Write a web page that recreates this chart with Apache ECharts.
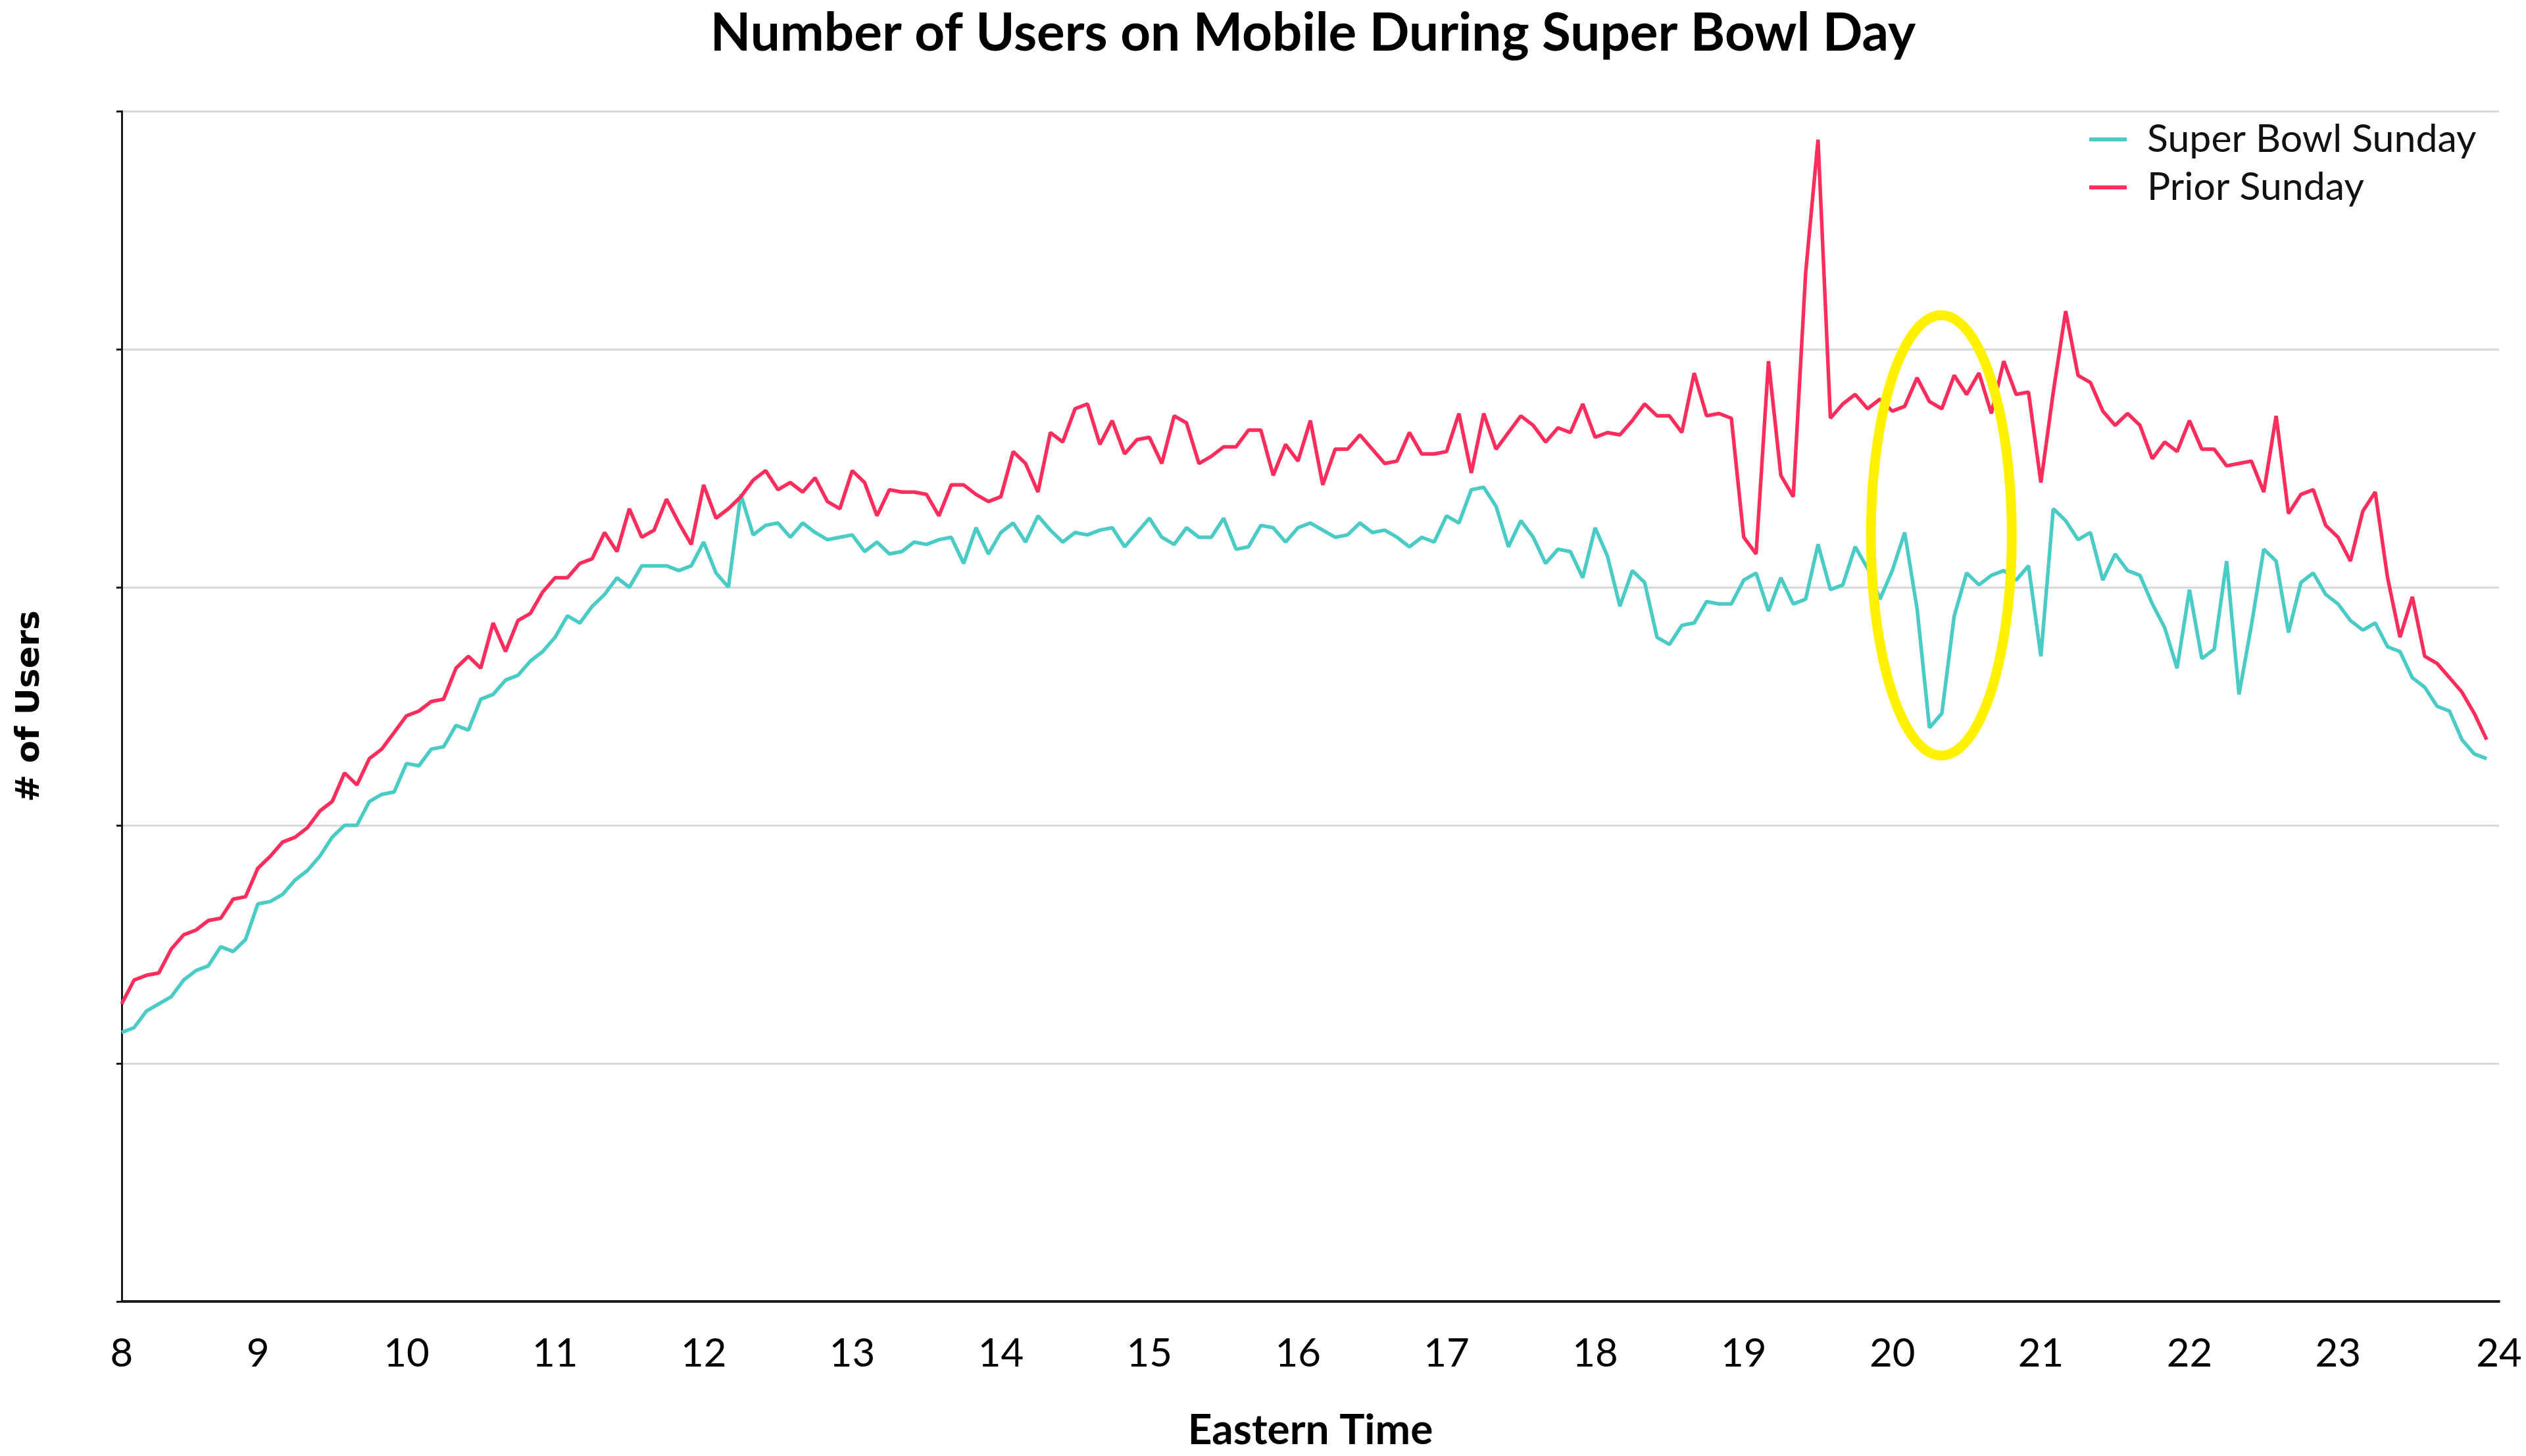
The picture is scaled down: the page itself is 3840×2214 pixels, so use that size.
<!DOCTYPE html>
<html>
<head>
<meta charset="utf-8">
<script src="https://cdn.jsdelivr.net/npm/echarts@6/dist/echarts.min.js"></script>
<style>
html,body{margin:0;padding:0;background:#fff;}
#chart{width:3840px;height:2214px;}
</style>
</head>
<body>
<div id="chart"></div>
<script>
// x positions: 5-minute steps, first reading at 8:05, last at 24:00 (hours)
const stepCount = 192;
const times = [];
for (let i = 0; i < stepCount; i++) { times.push(8 + (i + 1) / 12); }

// tick labels on the time axis
const tickValues = [8 + 1/12, 9, 10, 11, 12, 13, 14, 15, 16, 17, 18, 19, 20, 21, 22, 23, 24 + 1/12];

// Super Bowl Sunday (relative # of users)
const superBowlSunday = [
1.13,1.15,1.22,1.25,1.28,1.35,1.39,1.41,1.49,1.47,1.52,1.67,
1.68,1.71,1.77,1.81,1.87,1.95,2.00,2.00,2.10,2.13,2.14,2.26,
2.25,2.32,2.33,2.42,2.40,2.53,2.55,2.61,2.63,2.69,2.73,2.79,
2.88,2.85,2.92,2.97,3.04,3.00,3.09,3.09,3.09,3.07,3.09,3.19,
3.06,3.00,3.39,3.22,3.26,3.27,3.21,3.27,3.23,3.20,3.21,3.22,
3.15,3.19,3.14,3.15,3.19,3.18,3.20,3.21,3.10,3.25,3.14,3.23,
3.27,3.19,3.30,3.24,3.19,3.23,3.22,3.24,3.25,3.17,3.23,3.29,
3.21,3.18,3.25,3.21,3.21,3.29,3.16,3.17,3.26,3.25,3.19,3.25,
3.27,3.24,3.21,3.22,3.27,3.23,3.24,3.21,3.17,3.21,3.19,3.30,
3.27,3.41,3.42,3.34,3.17,3.28,3.21,3.10,3.16,3.15,3.04,3.25,
3.13,2.92,3.07,3.02,2.79,2.76,2.84,2.85,2.94,2.93,2.93,3.03,
3.06,2.90,3.04,2.93,2.95,3.18,2.99,3.01,3.17,3.08,2.95,3.07,
3.23,2.91,2.41,2.47,2.88,3.06,3.01,3.05,3.07,3.03,3.09,2.71,
3.33,3.28,3.20,3.23,3.03,3.14,3.07,3.05,2.93,2.83,2.66,2.99,
2.70,2.74,3.11,2.55,2.84,3.16,3.11,2.81,3.02,3.06,2.97,2.93,
2.86,2.82,2.85,2.75,2.73,2.62,2.58,2.50,2.48,2.36,2.30,2.28
];

// Prior Sunday (relative # of users)
const priorSunday = [
1.25,1.35,1.37,1.38,1.48,1.54,1.56,1.60,1.61,1.69,1.70,1.82,
1.87,1.93,1.95,1.99,2.06,2.10,2.22,2.17,2.28,2.32,2.39,2.46,
2.48,2.52,2.53,2.66,2.71,2.66,2.85,2.73,2.86,2.89,2.98,3.04,
3.04,3.10,3.12,3.23,3.15,3.33,3.21,3.24,3.37,3.27,3.18,3.43,
3.29,3.33,3.38,3.45,3.49,3.41,3.44,3.40,3.46,3.36,3.33,3.49,
3.44,3.30,3.41,3.40,3.40,3.39,3.30,3.43,3.43,3.39,3.36,3.38,
3.57,3.52,3.40,3.65,3.61,3.75,3.77,3.60,3.70,3.56,3.62,3.63,
3.52,3.72,3.69,3.52,3.55,3.59,3.59,3.66,3.66,3.47,3.60,3.53,
3.70,3.43,3.58,3.58,3.64,3.58,3.52,3.53,3.65,3.56,3.56,3.57,
3.73,3.48,3.73,3.58,3.65,3.72,3.68,3.61,3.67,3.65,3.77,3.63,
3.65,3.64,3.70,3.77,3.72,3.72,3.65,3.90,3.72,3.73,3.71,3.21,
3.14,3.95,3.47,3.38,4.32,4.88,3.71,3.77,3.81,3.75,3.79,3.74,
3.76,3.88,3.78,3.75,3.89,3.81,3.90,3.73,3.95,3.81,3.82,3.44,
3.82,4.16,3.89,3.86,3.74,3.68,3.73,3.68,3.54,3.61,3.57,3.70,
3.58,3.58,3.51,3.52,3.53,3.40,3.72,3.31,3.39,3.41,3.26,3.21,
3.11,3.32,3.40,3.04,2.79,2.96,2.71,2.68,2.62,2.56,2.47,2.36
];

// highlight ellipse annotation: [centre time, centre value, half-width (h), half-height (value)]
const highlight = [[20.33, 3.218, 0.474, 0.925]];

const pair = (vals) => vals.map((v, i) => [times[i], v]);

const chart = echarts.init(document.getElementById('chart'), null, {renderer: 'canvas', devicePixelRatio: 1});

const option = {
  backgroundColor: '#ffffff',
  animation: false,
  title: {
    text: 'Number of Users on Mobile During Super Bowl Day',
    left: 1991,
    textAlign: 'center',
    top: 6,
    textStyle: {fontFamily: 'Lato', fontWeight: 'bold', fontSize: 80, color: '#000'}
  },
  legend: {
    data: ['Super Bowl Sunday', 'Prior Sunday'],
    orient: 'vertical',
    left: 3171,
    top: 177,
    icon: 'rect',
    itemWidth: 57,
    itemHeight: 6,
    itemGap: 13,
    textStyle: {fontFamily: 'Lato', fontSize: 59, color: '#111', padding: [0, 0, 0, 26], lineHeight: 60}
  },
  grid: {left: 185, right: 41, top: 169, bottom: 235, containLabel: false},
  xAxis: {
    type: 'value',
    min: 8 + 1/12,
    max: 24 + 1/12,
    name: 'Eastern Time',
    nameLocation: 'middle',
    nameGap: 164,
    nameTextStyle: {fontFamily: 'Lato', fontWeight: 'bold', fontSize: 64, color: '#000'},
    axisLine: {show: true, onZero: false, lineStyle: {color: '#1a1a1a', width: 4}},
    axisTick: {show: false},
    splitLine: {show: false},
    axisLabel: {
      customValues: tickValues,
      showMinLabel: true,
      showMaxLabel: true,
      margin: 50,
      fontFamily: 'Lato',
      fontSize: 60,
      color: '#000',
      formatter: (v) => String(Math.floor(v + 1e-9))
    }
  },
  yAxis: {
    type: 'value',
    min: 0,
    max: 5,
    interval: 1,
    name: '# of Users',
    nameLocation: 'middle',
    nameRotate: 90,
    nameGap: 114,
    nameTextStyle: {fontFamily: 'DejaVu Sans', fontWeight: 'bold', fontSize: 50, color: '#000'},
    axisLine: {show: true, lineStyle: {color: '#1a1a1a', width: 3}},
    axisTick: {show: true, inside: false, length: 8, lineStyle: {color: '#1a1a1a', width: 3}},
    axisLabel: {show: false},
    splitLine: {show: true, lineStyle: {color: '#d9d9d9', width: 3}}
  },
  series: [
    {
      name: 'Super Bowl Sunday',
      type: 'line',
      data: pair(superBowlSunday),
      showSymbol: false,
      symbol: 'none',
      color: '#4BCBC6',
      lineStyle: {width: 5.5, color: '#4BCBC6'},
      z: 3
    },
    {
      name: 'Prior Sunday',
      type: 'line',
      data: pair(priorSunday),
      showSymbol: false,
      symbol: 'none',
      color: '#FF2D5C',
      lineStyle: {width: 5.5, color: '#FF2D5C'},
      z: 4
    },
    {
      name: 'highlight',
      type: 'custom',
      silent: true,
      z: 10,
      clip: false,
      data: highlight,
      encode: {x: 0, y: 1},
      renderItem: function (params, api) {
        const c = api.coord([api.value(0), api.value(1)]);
        const s = api.size([api.value(2), api.value(3)]);
        const pts = [];
        const n = 120;
        for (let k = 0; k < n; k++) {
          const a = k / n * Math.PI * 2;
          pts.push([c[0] + s[0] * Math.cos(a), c[1] + s[1] * Math.sin(a)]);
        }
        return {
          type: 'polygon',
          shape: {points: pts},
          style: {fill: 'none', stroke: '#FFF200', lineWidth: 15}
        };
      }
    }
  ]
};
chart.setOption(option);
</script>
</body>
</html>
